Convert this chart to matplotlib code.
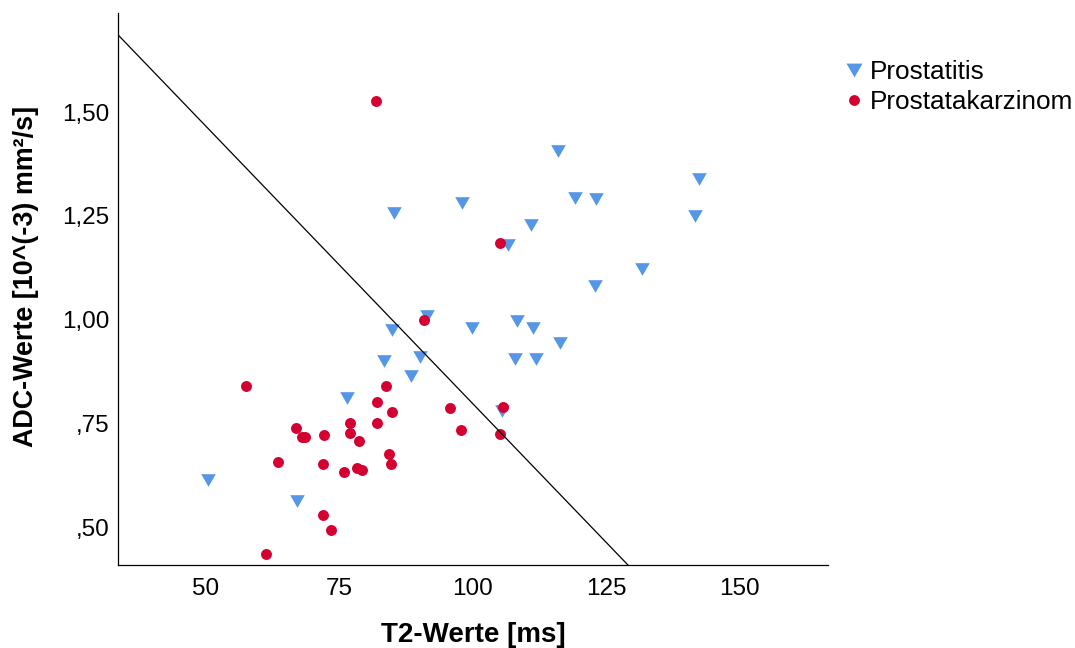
import numpy as np
import matplotlib
matplotlib.use("Agg")
import matplotlib.pyplot as plt
from matplotlib.lines import Line2D

plt.rcParams['font.family'] = ['Liberation Sans', 'DejaVu Sans']

# T2 (ms) and ADC (10^-3 mm²/s) per lesion
prostatitis_t2 = [91.4, 84.8, 90.0, 83.3, 88.4, 76.5, 105.5, 50.4, 67.1, 99.9,
                  108.2, 111.3, 107.8, 111.8, 116.3, 115.9, 142.3, 85.3, 97.9,
                  119.1, 123.0, 141.6, 110.8, 106.6, 131.7, 122.9]
prostatitis_adc = [1.009, 0.976, 0.910, 0.901, 0.865, 0.811, 0.780, 0.613, 0.564,
                   0.981, 0.996, 0.981, 0.906, 0.906, 0.943, 1.406, 1.338, 1.257,
                   1.282, 1.294, 1.290, 1.251, 1.227, 1.180, 1.121, 1.081]

karzinom_t2 = [90.8, 57.5, 83.8, 82.1, 84.8, 95.7, 105.7, 66.8, 67.9, 68.5,
               72.1, 77.0, 77.0, 78.7, 82.0, 97.7, 105.0, 63.5, 72.0, 84.3,
               84.6, 75.9, 78.2, 79.2, 71.9, 73.5, 61.2, 81.8, 105.1]
karzinom_adc = [0.999, 0.839, 0.839, 0.802, 0.778, 0.786, 0.790, 0.738, 0.718,
                0.718, 0.721, 0.752, 0.727, 0.708, 0.751, 0.734, 0.725, 0.657,
                0.653, 0.676, 0.653, 0.633, 0.643, 0.638, 0.530, 0.494, 0.434,
                1.528, 1.184]

# separating line: ADC = intercept + slope * T2
line_intercept = 2.135
line_slope = -0.01338

x_ticks = [50, 75, 100, 125, 150]
y_ticks = [0.50, 0.75, 1.00, 1.25, 1.50]
y_tick_labels = [",50", ",75", "1,00", "1,25", "1,50"]

blue = "#5596E6"
red = "#D50032"

# equilateral downward triangle, centred on its bounding box
tri = [(-1.0, 0.866), (1.0, 0.866), (0.0, -0.866), (-1.0, 0.866)]

fig = plt.figure(figsize=(10.75, 6.48), dpi=100)
ax = fig.add_axes([0.1098, 0.128, 0.6604, 0.852])

ax.scatter(prostatitis_t2, prostatitis_adc, marker=tri, s=110, color=blue,
           linewidths=0, zorder=2)
ax.scatter(karzinom_t2, karzinom_adc, marker="o", s=62, color=red,
           linewidths=0, zorder=2.5)
ax.axline((0, line_intercept), slope=line_slope, color="black", lw=0.9, zorder=3)

ax.set_xlim(33.52, 166.5)
ax.set_ylim(0.4084, 1.7393)
ax.set_xticks(x_ticks)
ax.set_yticks(y_ticks)
ax.set_yticklabels(y_tick_labels)
ax.tick_params(length=0, labelsize=17.5, colors="black")
ax.tick_params(axis="x", pad=9)
ax.tick_params(axis="y", pad=6)

for side in ("top", "right"):
    ax.spines[side].set_visible(False)
for side in ("left", "bottom"):
    ax.spines[side].set_linewidth(0.9)
    ax.spines[side].set_color("black")

ax.set_xlabel("T2-Werte [ms]", fontsize=20, fontweight="bold")
ax.set_ylabel("ADC-Werte [10^(-3) mm²/s]", fontsize=19.4, fontweight="bold")
ax.xaxis.set_label_coords(0.5, -0.103)
ax.yaxis.set_label_coords(-0.111, 0.523)

handles = [
    Line2D([], [], linestyle="none", marker=tri, markersize=11.5,
           markerfacecolor=blue, markeredgewidth=0),
    Line2D([], [], linestyle="none", marker="o", markersize=7.8,
           markerfacecolor=red, markeredgewidth=0),
]
fig.legend(handles, ["Prostatitis", "Prostatakarzinom"], loc="upper left",
           bbox_to_anchor=(832 / 1075, 1 - 50 / 648), frameon=False,
           fontsize=18.8, handlelength=0.9, handletextpad=0.15,
           labelspacing=0.22, borderaxespad=0)

fig.savefig("out.png", dpi=100, facecolor="white")
